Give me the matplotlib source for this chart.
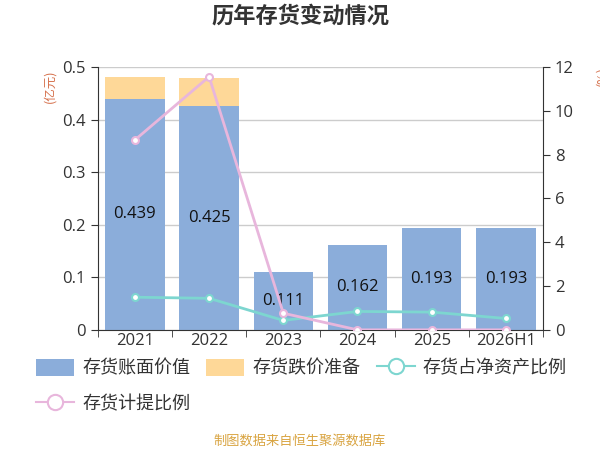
import matplotlib
matplotlib.use("Agg")
import matplotlib.pyplot as plt
from matplotlib.patches import Patch
from matplotlib.lines import Line2D
import numpy as np

plt.rcParams['font.family'] = ['Open Sans', 'Noto Sans CJK SC', 'DejaVu Sans']
cjk = ['Noto Sans CJK SC', 'DejaVu Sans']

categories = ['2021', '2022', '2023', '2024', '2025', '2026H1']
book_value = [0.439, 0.425, 0.111, 0.162, 0.193, 0.193]
impairment = [0.042, 0.055, 0.0, 0.0, 0.0, 0.0]
ratio_net_assets = [1.49, 1.44, 0.43, 0.84, 0.81, 0.52]
provision_ratio = [8.67, 11.56, 0.76, 0.0, 0.0, 0.0]

c_blue = '#8badda'
c_yellow = '#fed898'
c_teal = '#7dd6d0'
c_pink = '#e8b6dc'
c_text = '#333333'

fig = plt.figure(figsize=(6, 4.5), dpi=100)
ax = fig.add_axes([0.163, 0.267, 0.742, 0.584])
x = np.arange(len(categories))

ax.set_axisbelow(True)
ax.yaxis.grid(True, color='#cccccc', lw=1)
ax.bar(x, book_value, width=0.8, color=c_blue, zorder=2)
ax.bar(x, impairment, bottom=book_value, width=0.8, color=c_yellow, zorder=2)
for i, v in enumerate(book_value):
    ax.text(x[i], v / 2, f'{v:.3f}', ha='center', va='center', fontsize=12, color='#111111', zorder=5)

ax.set_xlim(-0.5, len(categories) - 0.5)
ax.set_ylim(0, 0.5)
ax.set_yticks([0, 0.1, 0.2, 0.3, 0.4, 0.5])
ax.set_yticklabels(['0', '0.1', '0.2', '0.3', '0.4', '0.5'])
ax.set_xticks(x)
ax.set_xticklabels(categories)
ax.set_xticks(np.arange(-0.5, len(categories)), minor=True)
ax.tick_params(axis='x', which='major', length=0, pad=2, labelsize=12, labelcolor=c_text)
ax.tick_params(axis='x', which='minor', length=5, color=c_text)
ax.tick_params(axis='y', length=5, color=c_text, labelsize=12, labelcolor=c_text)
for s in ['top', 'right']:
    ax.spines[s].set_visible(False)
for s in ['left', 'bottom']:
    ax.spines[s].set_color(c_text)

ax2 = ax.twinx()
ax2.set_ylim(0, 12)
ax2.set_yticks([0, 2, 4, 6, 8, 10, 12])
ax2.tick_params(axis='y', length=5, color=c_text, labelsize=12, labelcolor=c_text)
for s in ['top', 'left', 'bottom']:
    ax2.spines[s].set_visible(False)
ax2.spines['right'].set_color(c_text)
ax2.plot(x, ratio_net_assets, color=c_teal, lw=2, marker='o', ms=5,
         mfc='white', mec=c_teal, mew=1.5, zorder=3)
ax2.plot(x, provision_ratio, color=c_pink, lw=2, marker='o', ms=5,
         mfc='white', mec=c_pink, mew=1.5, zorder=3)

fig.text(0.5, 0.965, '历年存货变动情况', ha='center', va='center', fontsize=16,
         fontweight='bold', color=c_text, family=cjk)
fig.text(0.083, 0.809, '(亿元)', rotation=90, ha='center', va='center', fontsize=9,
         color='#d6724e', family=cjk)
fig.text(0.993, 0.83, '(%)', rotation=90, ha='left', va='center', fontsize=9,
         color='#d6724e', family=cjk)
fig.text(0.5, 0.02, '制图数据来自恒生聚源数据库', ha='center', va='center', fontsize=9.5,
         color='#d9a441', family=cjk)

h_blue = Patch(facecolor=c_blue, edgecolor='none')
h_yellow = Patch(facecolor=c_yellow, edgecolor='none')
h_teal = Line2D([], [], color=c_teal, lw=1.5, marker='o', ms=11, mfc='white', mec=c_teal, mew=1.5)
h_pink = Line2D([], [], color=c_pink, lw=1.5, marker='o', ms=11, mfc='white', mec=c_pink, mew=1.5)
handles = [h_blue, h_pink, h_yellow, h_teal]
labels = ['存货账面价值', '存货计提比例', '存货跌价准备', '存货占净资产比例']
leg = fig.legend(handles, labels, ncol=3, loc='upper left', bbox_to_anchor=(0.06, 0.203),
                 frameon=False, prop={'family': cjk, 'size': 13}, handlelength=2.1,
                 handleheight=1.1, handletextpad=0.45, columnspacing=0.9, labelspacing=0.95,
                 borderaxespad=0, borderpad=0)
for t in leg.get_texts():
    t.set_color(c_text)

fig.savefig('out.png', dpi=100)
